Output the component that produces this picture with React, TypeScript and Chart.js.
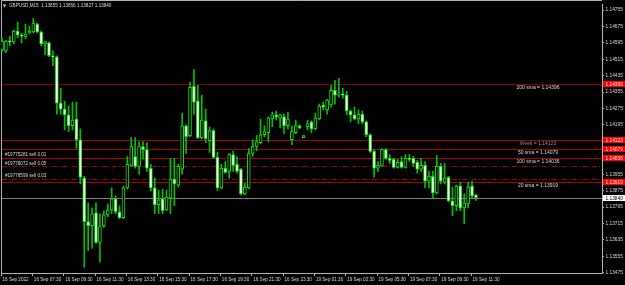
import { useEffect, useRef } from 'react';
import { Chart, registerables } from 'chart.js';

Chart.register(...registerables);

// ---- data ----
const symbolTitle = 'GBPUSD,M15';
const headerQuote = ['1.13855', '1.13856', '1.13827', '1.13840'];

const opens = [
  1.14561, 1.14556, 1.14604, 1.14600, 1.14652, 1.14633, 1.14624, 1.14643, 1.14648, 1.14686,
  1.14648, 1.14590, 1.14595, 1.14532, 1.14527, 1.14301, 1.14272, 1.14244, 1.14191, 1.14224,
  1.14123, 1.13936, 1.13724, 1.13704, 1.13767, 1.13623, 1.13704, 1.13757, 1.13781, 1.13835,
  1.13772, 1.13743, 1.13888, 1.13998, 1.14041, 1.13993, 1.14090, 1.14075, 1.13984, 1.13888,
  1.13806, 1.13835, 1.13781, 1.13839, 1.13931, 1.13902, 1.13979, 1.14191, 1.14143, 1.14383,
  1.14311, 1.14133, 1.14215, 1.14118, 1.14167, 1.14037, 1.13888, 1.13984, 1.13969, 1.14051,
  1.14003, 1.13979, 1.13859, 1.13888, 1.14056, 1.14090, 1.14109, 1.14147, 1.14157, 1.14224,
  1.14244, 1.14229, 1.14234, 1.14191, 1.14123, 1.14157, 1.14191, 1.14133, 1.14186, 1.14210,
  1.14176, 1.14224, 1.14292, 1.14268, 1.14292, 1.14364, 1.14340, 1.14344, 1.14340, 1.14263,
  1.14244, 1.14224, 1.14248, 1.14210, 1.14147, 1.14066, 1.13984, 1.13998, 1.14075, 1.14032,
  1.14027, 1.13988, 1.14017, 1.13988, 1.14032, 1.14032, 1.14013, 1.13979, 1.13998, 1.13921,
  1.13945, 1.13864, 1.13993, 1.13916, 1.13940, 1.13825, 1.13801, 1.13897, 1.13791, 1.13810,
  1.13897, 1.13855,
];
const highs = [
  1.14619, 1.14609, 1.14628, 1.14657, 1.14696, 1.14643, 1.14686, 1.14677, 1.14715, 1.14691,
  1.14652, 1.14602, 1.14600, 1.14556, 1.14532, 1.14373, 1.14311, 1.14287, 1.14306, 1.14306,
  1.14176, 1.13945, 1.13815, 1.13791, 1.13815, 1.13762, 1.13777, 1.13810, 1.13888, 1.13849,
  1.13801, 1.13897, 1.14041, 1.14133, 1.14133, 1.14114, 1.14114, 1.14109, 1.14003, 1.13936,
  1.13878, 1.13883, 1.13878, 1.14032, 1.14032, 1.14003, 1.14253, 1.14195, 1.14402, 1.14465,
  1.14388, 1.14340, 1.14272, 1.14186, 1.14176, 1.14061, 1.14003, 1.14017, 1.14056, 1.14066,
  1.14041, 1.13984, 1.13911, 1.14080, 1.14123, 1.14143, 1.14224, 1.14191, 1.14234, 1.14258,
  1.14263, 1.14248, 1.14248, 1.14258, 1.14191, 1.14219, 1.14195, 1.14143, 1.14219, 1.14215,
  1.14253, 1.14296, 1.14306, 1.14320, 1.14388, 1.14412, 1.14422, 1.14373, 1.14359, 1.14268,
  1.14282, 1.14268, 1.14263, 1.14215, 1.14152, 1.14075, 1.14017, 1.14080, 1.14080, 1.14051,
  1.14032, 1.14027, 1.14041, 1.14051, 1.14051, 1.14041, 1.14022, 1.14032, 1.14017, 1.13969,
  1.13969, 1.14046, 1.14008, 1.14008, 1.13945, 1.13892, 1.13902, 1.13916, 1.13859, 1.13916,
  1.13921, 1.13856,
];
const lows = [
  1.14551, 1.14547, 1.14580, 1.14590, 1.14619, 1.14595, 1.14614, 1.14640, 1.14643, 1.14643,
  1.14580, 1.14537, 1.14527, 1.14484, 1.14248, 1.14248, 1.14171, 1.14162, 1.14171, 1.14080,
  1.13907, 1.13502, 1.13584, 1.13594, 1.13618, 1.13526, 1.13695, 1.13748, 1.13762, 1.13762,
  1.13738, 1.13738, 1.13883, 1.13993, 1.13984, 1.13955, 1.14027, 1.13969, 1.13873, 1.13762,
  1.13762, 1.13762, 1.13777, 1.13762, 1.13801, 1.13892, 1.13955, 1.14056, 1.14138, 1.14248,
  1.14128, 1.14128, 1.14109, 1.14061, 1.14032, 1.13873, 1.13883, 1.13960, 1.13936, 1.13969,
  1.13960, 1.13854, 1.13854, 1.13883, 1.14041, 1.14070, 1.14104, 1.14138, 1.14114, 1.14186,
  1.14219, 1.14181, 1.14152, 1.14176, 1.14099, 1.14152, 1.14176, 1.14133, 1.14171, 1.14157,
  1.14171, 1.14219, 1.14268, 1.14248, 1.14282, 1.14296, 1.14330, 1.14325, 1.14244, 1.14210,
  1.14219, 1.14200, 1.14200, 1.14138, 1.14061, 1.13940, 1.13969, 1.13993, 1.14027, 1.14008,
  1.13984, 1.13984, 1.13984, 1.13984, 1.14017, 1.13993, 1.13960, 1.13969, 1.13888, 1.13888,
  1.13839, 1.13859, 1.13907, 1.13907, 1.13820, 1.13753, 1.13777, 1.13777, 1.13714, 1.13791,
  1.13839, 1.13827,
];
const closes = [
  1.14604, 1.14604, 1.14600, 1.14652, 1.14633, 1.14628, 1.14638, 1.14652, 1.14691, 1.14648,
  1.14590, 1.14600, 1.14532, 1.14527, 1.14301, 1.14272, 1.14244, 1.14191, 1.14219, 1.14123,
  1.13940, 1.13724, 1.13704, 1.13762, 1.13623, 1.13700, 1.13757, 1.13781, 1.13835, 1.13772,
  1.13743, 1.13888, 1.14003, 1.14090, 1.13993, 1.14090, 1.14075, 1.13984, 1.13888, 1.13806,
  1.13830, 1.13777, 1.13844, 1.13931, 1.13907, 1.13993, 1.14191, 1.14138, 1.14378, 1.14306,
  1.14133, 1.14219, 1.14128, 1.14167, 1.14037, 1.13888, 1.13984, 1.13964, 1.14051, 1.13998,
  1.13969, 1.13859, 1.13892, 1.14056, 1.14090, 1.14114, 1.14147, 1.14162, 1.14229, 1.14244,
  1.14234, 1.14244, 1.14191, 1.14224, 1.14162, 1.14191, 1.14181, 1.14143, 1.14200, 1.14176,
  1.14229, 1.14287, 1.14282, 1.14316, 1.14364, 1.14340, 1.14344, 1.14340, 1.14263, 1.14244,
  1.14224, 1.14248, 1.14210, 1.14147, 1.14066, 1.13984, 1.13998, 1.14075, 1.14032, 1.14022,
  1.13988, 1.14013, 1.13988, 1.14032, 1.14027, 1.14008, 1.13979, 1.13998, 1.13921, 1.13945,
  1.13864, 1.13993, 1.13921, 1.13936, 1.13825, 1.13801, 1.13897, 1.13791, 1.13815, 1.13892,
  1.13849, 1.13840,
];

const xTickLabels = [
  '16 Sep 2022', '16 Sep 07:30', '16 Sep 09:30', '16 Sep 11:30', '16 Sep 13:30', '16 Sep 15:30',
  '16 Sep 17:30', '16 Sep 19:30', '16 Sep 21:30', '16 Sep 23:30', '19 Sep 01:30', '19 Sep 03:30',
  '19 Sep 05:30', '19 Sep 07:30', '19 Sep 09:30', '19 Sep 11:30',
];
const barsPerXTick = 8;

const yTickValues = [
  1.13475, 1.13555, 1.13635, 1.13715, 1.13795, 1.13875, 1.13955, 1.14035, 1.14115,
  1.14195, 1.14275, 1.14355, 1.14435, 1.14515, 1.14595, 1.14675, 1.14755,
];

const levelNames = ['200 sma', 'Week', '50 sma', '100 sma', '20 sma'];
const levelPrices = [1.14396, 1.14123, 1.14079, 1.14036, 1.13919];
const orderLabels = ['#19775281 sell 0.01', '#19778072 sell 0.05', '#19776599 sell 0.03'];
const orderPrices = [1.14036, 1.13993, 1.13931];
const currentPrice = 1.1384;

// ---- axis ranges ----
const Y_MIN = 1.134735;
const Y_MAX = 1.147824;
const X_MIN = -0.255;
const X_MAX = 153.18;

// ---- styles ----
const FONT = "'Liberation Sans', 'DejaVu Sans', sans-serif";
const AXIS_COLOR = '#b4b4b4';
const TEXT_COLOR = '#d8d8d8';
const WICK_COLOR = '#00c000';
const BODY_BORDER = '#10e010';
const levelLineColors = ['#800000', '#a80000', '#a80000', '#a80000', '#a80000'];
const levelTextColors = [TEXT_COLOR, '#8c8c8c', TEXT_COLOR, TEXT_COLOR, TEXT_COLOR];

const mtOverlay = {
  id: 'mtOverlay',
  beforeDraw(chart: any) {
    const { ctx, width, height } = chart;
    ctx.save();
    ctx.fillStyle = '#000';
    ctx.fillRect(0, 0, width, height);
    ctx.restore();
  },
  beforeDatasetsDraw(chart: any) {
    const { ctx, chartArea: a, scales } = chart;
    const y = scales.y;
    ctx.save();
    ctx.lineWidth = 1;
    ctx.strokeStyle = AXIS_COLOR;
    ctx.beginPath();
    ctx.moveTo(a.left + 0.5, a.bottom);
    ctx.lineTo(a.left + 0.5, 0.5);
    ctx.lineTo(a.right, 0.5);
    ctx.stroke();
    const hline = (price: number, color: string, dash: number[]) => {
      const py = Math.round(y.getPixelForValue(price)) + 0.5;
      ctx.setLineDash(dash);
      ctx.strokeStyle = color;
      ctx.beginPath();
      ctx.moveTo(a.left + 1, py);
      ctx.lineTo(a.right, py);
      ctx.stroke();
    };
    hline(currentPrice, '#808080', []);
    orderPrices.forEach((p) => hline(p, '#a00000', [5, 2, 1, 2]));
    levelPrices.forEach((p, i) => hline(p, levelLineColors[i], []));
    ctx.restore();
  },
  afterDatasetsDraw(chart: any) {
    const { ctx, chartArea: a, scales } = chart;
    const y = scales.y;
    ctx.save();
    ctx.textBaseline = 'middle';
    ctx.font = `5px ${FONT}`;
    ctx.textAlign = 'center';
    levelPrices.forEach((p, i) => {
      const py = y.getPixelForValue(p);
      ctx.fillStyle = levelTextColors[i];
      ctx.fillText(`${levelNames[i]} = ${p.toFixed(5)}`, a.right - 64, py + 4);
    });
    ctx.textAlign = 'left';
    ctx.font = `4.6px ${FONT}`;
    ctx.fillStyle = TEXT_COLOR;
    orderPrices.forEach((p, i) => {
      const py = y.getPixelForValue(p);
      ctx.fillText(orderLabels[i], a.left + 4, py - 3);
    });
    ctx.restore();
  },
  afterDraw(chart: any) {
    const { ctx, chartArea: a, scales, width } = chart;
    const y = scales.y;
    ctx.save();
    ctx.textBaseline = 'middle';
    ctx.textAlign = 'left';
    ctx.font = `4.8px ${FONT}`;
    const tag = (price: number, bg: string, fg: string) => {
      const py = Math.round(y.getPixelForValue(price));
      ctx.fillStyle = bg;
      ctx.fillRect(a.right + 1, py - 3, width - a.right - 1, 6);
      ctx.fillStyle = fg;
      ctx.fillText(price.toFixed(5), a.right + 3.5, py + 0.3);
    };
    levelPrices.forEach((p) => tag(p, '#ff0000', '#ffe0e0'));
    tag(currentPrice, '#ffffff', '#000000');
    // header
    ctx.fillStyle = TEXT_COLOR;
    ctx.font = `4px 'DejaVu Sans'`;
    ctx.fillText('\u25BC', a.left + 2, 5.5);
    ctx.font = `4.6px ${FONT}`;
    ctx.fillText(`${symbolTitle}  ${headerQuote.join(' ')}`, a.left + 8, 5.5);
    ctx.restore();
  },
};

export default function App() {
  const ref = useRef<HTMLCanvasElement>(null);
  useEffect(() => {
    document.body.style.margin = '0';
    document.body.style.background = '#000';
    const idx = opens.map((_, i) => i);
    const bodies = idx.map((i) => ({ x: i, y: [Math.min(opens[i], closes[i]), Math.max(opens[i], closes[i])] }));
    const wicks = idx.map((i) => ({ x: i, y: [lows[i], highs[i]] }));
    const bodyFill = idx.map((i) => (closes[i] < opens[i] ? '#ffffff' : '#000000'));
    const chart = new Chart(ref.current as HTMLCanvasElement, {
      type: 'bar',
      data: {
        datasets: [
          {
            label: 'body',
            data: bodies as any,
            backgroundColor: bodyFill,
            borderColor: BODY_BORDER,
            borderWidth: 1,
            borderSkipped: false,
            barThickness: 3,
            minBarLength: 1,
            grouped: false,
            order: 0,
          } as any,
          {
            label: 'wick',
            data: wicks as any,
            backgroundColor: WICK_COLOR,
            borderWidth: 0,
            barThickness: 1,
            grouped: false,
            order: 1,
          } as any,
        ],
      },
      options: {
        responsive: false,
        animation: false,
        devicePixelRatio: 1,
        events: [],
        layout: { padding: { left: 1, top: 1, right: 0, bottom: 0 } },
        plugins: { legend: { display: false }, tooltip: { enabled: false } },
        scales: {
          x: {
            type: 'linear',
            min: X_MIN,
            max: X_MAX,
            bounds: 'data',
            offset: false,
            afterBuildTicks: (s: any) => {
              s.ticks = xTickLabels.map((_, k) => ({ value: k * barsPerXTick - 0.25 }));
            },
            afterFit: (s: any) => {
              s.height = 12;
            },
            grid: { offset: false, drawOnChartArea: false, drawTicks: true, tickLength: 3, tickColor: AXIS_COLOR },
            border: { color: AXIS_COLOR },
            ticks: {
              autoSkip: false,
              maxRotation: 0,
              align: 'start',
              labelOffset: 1.5,
              padding: 0.5,
              color: TEXT_COLOR,
              font: { family: FONT, size: 4.6 },
              callback: (_v: any, i: number) => xTickLabels[i],
            },
          } as any,
          y: {
            type: 'linear',
            position: 'right',
            min: Y_MIN,
            max: Y_MAX,
            bounds: 'data',
            afterBuildTicks: (s: any) => {
              const tags = [...levelPrices, currentPrice];
              s.ticks = yTickValues
                .filter((v) => tags.every((t) => Math.abs(t - v) > 0.00016))
                .map((v) => ({ value: v }));
            },
            afterFit: (s: any) => {
              s.width = 23;
            },
            grid: { drawOnChartArea: false, drawTicks: true, tickLength: 2, tickColor: AXIS_COLOR },
            border: { color: AXIS_COLOR },
            ticks: {
              padding: 1.5,
              color: TEXT_COLOR,
              font: { family: FONT, size: 4.8 },
              callback: (v: any) => Number(v).toFixed(5),
            },
          } as any,
        },
      },
      plugins: [mtOverlay],
    } as any);
    return () => chart.destroy();
  }, []);
  return <canvas ref={ref} width={625} height={285} style={{ display: 'block', width: 625, height: 285 }} />;
}
